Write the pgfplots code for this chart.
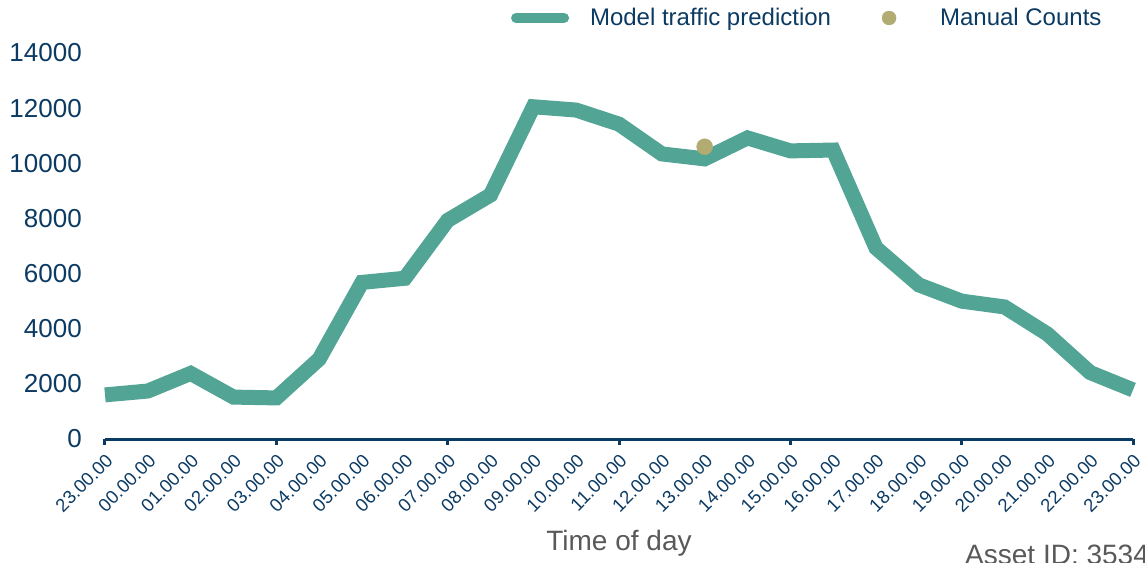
\documentclass[border=0pt]{standalone}
\usepackage{fontspec}
\setmainfont{Liberation Sans}
\usepackage{pgfplots}
\pgfplotsset{compat=1.18}
\definecolor{navy}{HTML}{0B3A63}
\definecolor{mteal}{HTML}{52A594}
\definecolor{mdot}{HTML}{B2AB72}
\definecolor{greytxt}{HTML}{595959}
\begin{document}
\begin{tikzpicture}[x=1pt,y=1pt]
\path[use as bounding box] (-105,-123) rectangle (1040,439);
\begin{axis}[
  at={(0,0)}, anchor=south west,
  scale only axis, width=1028pt, height=386pt,
  xmin=0, xmax=24, ymin=0, ymax=14000,
  clip=false,
  axis x line*=bottom, axis y line*=left,
  y axis line style={draw=none},
  x axis line style={navy, line width=3pt, -},
  xtick={0,...,24},
  xticklabels={23.00.00,00.00.00,01.00.00,02.00.00,03.00.00,04.00.00,05.00.00,06.00.00,07.00.00,08.00.00,09.00.00,10.00.00,11.00.00,12.00.00,13.00.00,14.00.00,15.00.00,16.00.00,17.00.00,18.00.00,19.00.00,20.00.00,21.00.00,22.00.00,23.00.00},
  major tick length=0pt,
  extra x ticks={0,4,8,12,16,20,24},
  extra x tick labels={},
  extra x tick style={major tick length=6pt, tick align=outside, tick style={navy, line width=3pt}},
  ytick={0,2000,...,14000},
  ytick style={draw=none},
  scaled y ticks=false,
  /pgf/number format/1000 sep={},
  /pgf/number format/assume math mode=true,
  yticklabel style={font=\fontsize{26}{30}\selectfont, text=navy, anchor=east, inner sep=0pt, xshift=-23pt},
  xticklabel style={font=\fontsize{18.5}{22}\selectfont, text=navy, rotate=45, anchor=east, inner sep=0pt, yshift=-16.3pt, xshift=-9.8pt},
  xlabel={Time of day},
  xlabel style={font=\fontsize{28}{32}\selectfont, text=greytxt, at={(axis description cs:0.5,-0.2876)}, anchor=base},
  legend style={draw=none, fill=none, inner sep=0pt, outer sep=0pt, legend columns=2,
    at={(axis description cs:0.3950,1.0907)}, anchor=west,
    font=\fontsize{24}{28}\selectfont, text=navy, nodes={inner sep=0pt}},
]
\addplot[mteal, line width=15pt, mark=none,
  legend image code/.code={\draw[mteal, line width=10pt, line cap=round] (5pt,0pt) -- (53pt,0pt); \path[draw=none] (0pt,0pt) -- (79pt,0pt);}]
coordinates {
(0,1600) (1,1740) (2,2380) (3,1520) (4,1490) (5,2900) (6,5680) (7,5830)
(8,7930) (9,8850) (10,12050) (11,11930) (12,11420) (13,10340) (14,10160)
(15,10920) (16,10450) (17,10480) (18,6930) (19,5590) (20,5000) (21,4790)
(22,3810) (23,2410) (24,1780)
};
\addlegendentry{Model traffic prediction}
\addplot[only marks, mark=*, mark size=8pt, mark options={draw=mdot, fill=mdot},
  legend image code/.code={\path[draw=none] (-58pt,0pt) -- (51pt,0pt); \fill[mdot] (0pt,0pt) circle (7pt);}]
coordinates {(14,10600)};
\addlegendentry{Manual Counts}
\node[anchor=base west, inner sep=0pt, font=\fontsize{28}{32}\selectfont, text=greytxt]
  at (axis description cs:0.8366,-0.3264) {Asset ID: 3534};
\end{axis}
\end{tikzpicture}
\end{document}
